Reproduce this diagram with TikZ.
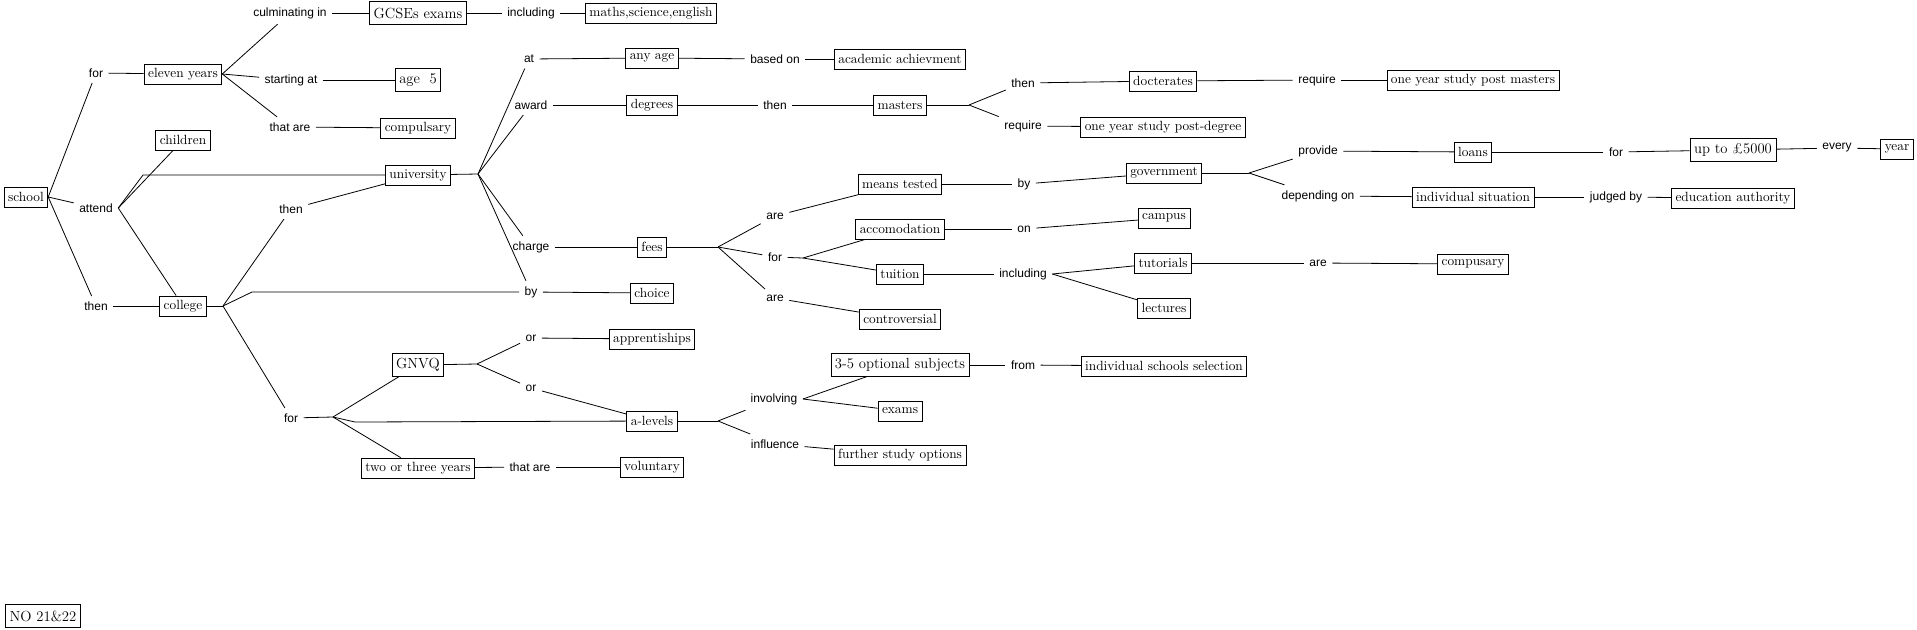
\documentclass[tikz,border=0pt]{standalone}
\usepackage{fontspec}
\setsansfont{Liberation Sans}
\usepackage{tikz}
\usetikzlibrary{positioning}

\begin{document}
\begin{tikzpicture}[
    x=0.75pt, y=-0.75pt,
    concept/.style={rectangle, draw, line width=0.6pt, font=\fontsize{10}{12}\selectfont, inner xsep=3pt, inner ysep=2pt, minimum height=15pt},
    bigconcept/.style={concept, font=\fontsize{11}{13}\selectfont, minimum height=17pt},
    link/.style={font=\sffamily\fontsize{9}{10}\selectfont, inner sep=4pt},
    line/.style={line width=0.6pt}
]
    \useasboundingbox (0,0) rectangle (1917,629);

    \node[concept] (school) at (26,197) {school};
    \node[concept] (eleven) at (183,74) {eleven years};
    \node[bigconcept] (gcse) at (418,13) {GCSEs exams};
    \node[concept] (maths) at (651,13) {maths,science,english};
    \node[bigconcept] (age) at (418,80) {age\ \ 5};
    \node[concept] (compuls) at (418,128) {compulsary};
    \node[concept] (children) at (183,140) {children};
    \node[concept] (univ) at (418,175) {university};
    \node[concept] (college) at (183,306) {college};
    \node[concept] (anyage) at (652,58) {any age};
    \node[concept] (academic) at (900,59) {academic achievment};
    \node[concept] (degrees) at (652,105) {degrees};
    \node[concept] (masters) at (900,105) {masters};
    \node[concept] (docter) at (1163,81) {docterates};
    \node[concept] (postmast) at (1473,80) {one year study post masters};
    \node[concept] (postdeg) at (1163,127) {one year study post-degree};
    \node[concept] (fees) at (652,247) {fees};
    \node[concept] (choice) at (652,293) {choice};
    \node[concept] (means) at (900,184) {means tested};
    \node[concept] (accom) at (900,229) {accomodation};
    \node[concept] (tuition) at (900,274) {tuition};
    \node[concept] (controv) at (900,319) {controversial};
    \node[concept] (govt) at (1164,173) {government};
    \node[concept] (loans) at (1473,152) {loans};
    \node[bigconcept] (upto) at (1733,150) {up to £5000};
    \node[concept] (year) at (1897,149) {year};
    \node[concept] (indiv) at (1473,197) {individual situation};
    \node[concept] (eduauth) at (1733,198) {education authority};
    \node[concept] (campus) at (1164,218) {campus};
    \node[concept] (tutor) at (1163,263) {tutorials};
    \node[concept] (lectures) at (1164,308) {lectures};
    \node[concept] (compus) at (1473,264) {compusary};
    \node[bigconcept] (gnvq) at (418,365) {GNVQ};
    \node[concept] (appr) at (652,339) {apprentiships};
    \node[concept] (alevels) at (652,421) {a-levels};
    \node[concept] (twothree) at (418,468) {two or three years};
    \node[concept] (volunt) at (652,467) {voluntary};
    \node[bigconcept] (optional) at (900,365) {3-5 optional subjects};
    \node[concept] (exams) at (900,411) {exams};
    \node[concept] (further) at (900,455) {further study options};
    \node[concept] (schools) at (1164,366) {individual schools selection};
    \node[bigconcept] (nolabel) at (43,616) {NO 21\&22};

    \node[link] (lfor) at (96,73) {for};
    \node[link] (lattend) at (96,208) {attend};
    \node[link] (lthen) at (96,306) {then};
    \node[link] (lculm) at (290,13) {culminating in};
    \node[link] (lincl) at (531,13) {including};
    \node[link] (lstart) at (291,80) {starting at};
    \node[link] (lthatare) at (290,127) {that are};
    \node[link] (lthenuni) at (291,209) {then};
    \node[link] (lat) at (529,59) {at};
    \node[link] (lbased) at (775,59) {based on};
    \node[link] (laward) at (531,105) {award};
    \node[link] (lthenmast) at (775,105) {then};
    \node[link] (lthendoc) at (1023,83) {then};
    \node[link] (lreqmast) at (1317,80) {require};
    \node[link] (lreqdeg) at (1023,126) {require};
    \node[link] (lcharge) at (531,247) {charge};
    \node[link] (lby) at (531,292) {by};
    \node[link] (lare) at (775,216) {are};
    \node[link] (lforfees) at (775,257) {for};
    \node[link] (lareb) at (775,298) {are};
    \node[link] (lbygov) at (1024,184) {by};
    \node[link] (lon) at (1024,229) {on};
    \node[link] (linclt) at (1023,274) {including};
    \node[link] (lprovide) at (1318,151) {provide};
    \node[link] (ldepend) at (1318,196) {depending on};
    \node[link] (laretut) at (1318,263) {are};
    \node[link] (lforloan) at (1616,152) {for};
    \node[link] (levery) at (1837,148) {every};
    \node[link] (ljudged) at (1616,197) {judged by};
    \node[link] (lforcol) at (291,418) {for};
    \node[link] (lor) at (531,338) {or};
    \node[link] (lorb) at (531,388) {or};
    \node[link] (lthatareb) at (530,467) {that are};
    \node[link] (linvolv) at (774,399) {involving};
    \node[link] (linflu) at (775,444) {influence};
    \node[link] (lfrom) at (1023,365) {from};

    \coordinate (attendB) at (143,175);
    \coordinate (collegeR) at (223,306);
    \coordinate (collegeB) at (252,292);
    \coordinate (univR) at (478,174);
    \coordinate (mastersR) at (969,105);
    \coordinate (feesR) at (718,247);
    \coordinate (forfeesR) at (803,258);
    \coordinate (govtR) at (1249,173);
    \coordinate (forcolR) at (333,417);
    \coordinate (forcolB) at (355,422);
    \coordinate (gnvqR) at (477,364);
    \coordinate (alevelsR) at (718,421);

    \draw[line] (school.east) -- (lfor);
    \draw[line] (school.east) -- (lattend);
    \draw[line] (school.east) -- (lthen);
    \draw[line] (lfor) -- (eleven);
    \draw[line] (eleven.east) -- (lculm);
    \draw[line] (eleven.east) -- (lstart);
    \draw[line] (eleven.east) -- (lthatare);
    \draw[line] (lculm) -- (gcse);
    \draw[line] (gcse) -- (lincl);
    \draw[line] (lincl) -- (maths);
    \draw[line] (lstart) -- (age);
    \draw[line] (lthatare) -- (compuls);
    \draw[line] (lattend.east) -- (children);
    \draw[line] (lattend.east) -- (attendB) -- (univ);
    \draw[line] (lattend.east) -- (college);
    \draw[line] (lthen) -- (college);
    \draw[line] (college) -- (collegeR);
    \draw[line] (collegeR) -- (lthenuni);
    \draw[line] (collegeR) -- (collegeB) -- (lby);
    \draw[line] (collegeR) -- (lforcol);
    \draw[line] (lthenuni) -- (univ);
    \draw[line] (univ) -- (univR);
    \draw[line] (univR) -- (lat);
    \draw[line] (univR) -- (laward);
    \draw[line] (univR) -- (lcharge);
    \draw[line] (univR) -- (lby);
    \draw[line] (lat) -- (anyage);
    \draw[line] (anyage) -- (lbased);
    \draw[line] (lbased) -- (academic);
    \draw[line] (laward) -- (degrees);
    \draw[line] (degrees) -- (lthenmast);
    \draw[line] (lthenmast) -- (masters);
    \draw[line] (masters) -- (mastersR);
    \draw[line] (mastersR) -- (lthendoc);
    \draw[line] (mastersR) -- (lreqdeg);
    \draw[line] (lthendoc) -- (docter);
    \draw[line] (docter) -- (lreqmast);
    \draw[line] (lreqmast) -- (postmast);
    \draw[line] (lreqdeg) -- (postdeg);
    \draw[line] (lcharge) -- (fees);
    \draw[line] (lby) -- (choice);
    \draw[line] (fees) -- (feesR);
    \draw[line] (feesR) -- (lare);
    \draw[line] (feesR) -- (lforfees);
    \draw[line] (feesR) -- (lareb);
    \draw[line] (lare) -- (means);
    \draw[line] (means) -- (lbygov);
    \draw[line] (lbygov) -- (govt);
    \draw[line] (lforfees) -- (forfeesR);
    \draw[line] (forfeesR) -- (accom);
    \draw[line] (forfeesR) -- (tuition);
    \draw[line] (lareb) -- (controv);
    \draw[line] (accom) -- (lon);
    \draw[line] (lon) -- (campus);
    \draw[line] (tuition) -- (linclt);
    \draw[line] (linclt.east) -- (tutor);
    \draw[line] (linclt.east) -- (lectures);
    \draw[line] (tutor) -- (laretut);
    \draw[line] (laretut) -- (compus);
    \draw[line] (govt) -- (govtR);
    \draw[line] (govtR) -- (lprovide);
    \draw[line] (govtR) -- (ldepend);
    \draw[line] (lprovide) -- (loans);
    \draw[line] (loans) -- (lforloan);
    \draw[line] (lforloan) -- (upto);
    \draw[line] (upto) -- (levery);
    \draw[line] (levery) -- (year);
    \draw[line] (ldepend) -- (indiv);
    \draw[line] (indiv) -- (ljudged);
    \draw[line] (ljudged) -- (eduauth);
    \draw[line] (lforcol) -- (forcolR);
    \draw[line] (forcolR) -- (gnvq);
    \draw[line] (forcolR) -- (forcolB) -- (alevels);
    \draw[line] (forcolR) -- (twothree);
    \draw[line] (gnvq) -- (gnvqR);
    \draw[line] (gnvqR) -- (lor);
    \draw[line] (gnvqR) -- (lorb);
    \draw[line] (lor) -- (appr);
    \draw[line] (lorb) -- (alevels);
    \draw[line] (twothree) -- (lthatareb);
    \draw[line] (lthatareb) -- (volunt);
    \draw[line] (alevels) -- (alevelsR);
    \draw[line] (alevelsR) -- (linvolv);
    \draw[line] (alevelsR) -- (linflu);
    \draw[line] (linvolv.east) -- (optional);
    \draw[line] (linvolv.east) -- (exams);
    \draw[line] (optional) -- (lfrom);
    \draw[line] (lfrom) -- (schools);
    \draw[line] (linflu) -- (further);
\end{tikzpicture}
\end{document}
